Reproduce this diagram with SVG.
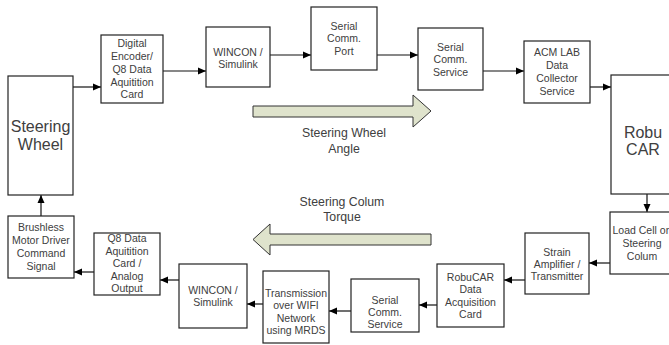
<svg xmlns="http://www.w3.org/2000/svg" width="669" height="345" viewBox="0 0 669 345">
<defs>
<marker id="ah" viewBox="0 0 8 8" refX="8" refY="4" markerWidth="8" markerHeight="8" markerUnits="userSpaceOnUse" orient="auto">
<path d="M0,0.5 L8,4 L0,7.5 z" fill="#000"/>
</marker>
<style>
.box{fill:#fff;stroke:#222;stroke-width:1.2}
.t{font-family:"Liberation Sans",Arial,sans-serif;font-size:10.5px;fill:#404040;text-anchor:middle}
.big{font-family:"Liberation Sans",Arial,sans-serif;font-size:16px;fill:#404040;text-anchor:middle}
.lbl{font-family:"Liberation Sans",Arial,sans-serif;font-size:12.3px;fill:#404040;text-anchor:middle}
.c{fill:none;stroke:#111;stroke-width:1.2;marker-end:url(#ah)}
.fat{fill:#dfe3cc;stroke:#333;stroke-width:1}
</style>
</defs>
<rect width="669" height="345" fill="#fff"/>

<g id="connectors">
<line class="c" x1="73" y1="87" x2="101" y2="87"/>
<line class="c" x1="163" y1="71" x2="206" y2="71"/>
<line class="c" x1="270" y1="55" x2="311" y2="55"/>
<line class="c" x1="377" y1="55" x2="418" y2="55"/>
<line class="c" x1="483" y1="71" x2="524" y2="71"/>
<line class="c" x1="590" y1="87" x2="611" y2="87"/>
<line class="c" x1="647" y1="194" x2="647" y2="212"/>
<line class="c" x1="610" y1="263" x2="589" y2="263"/>
<line class="c" x1="525" y1="280" x2="504" y2="280"/>
<line class="c" x1="437" y1="305" x2="419" y2="305"/>
<line class="c" x1="351" y1="311" x2="329" y2="311"/>
<line class="c" x1="263" y1="304" x2="247" y2="304"/>
<line class="c" x1="179" y1="280" x2="160" y2="280"/>
<line class="c" x1="94" y1="272" x2="74" y2="272"/>
<line class="c" x1="41" y1="216" x2="41" y2="195"/>
</g>

<g id="flow-arrows">
<path class="fat" d="M253,106 L413,106 L413,95 L431,111 L413,127 L413,117 L253,117 z"/>
<text class="lbl" x="344" y="137">Steering Wheel</text>
<text class="lbl" x="344" y="153">Angle</text>
<path class="fat" d="M431,234 L270,234 L270,224 L253,239.5 L270,255 L270,245 L431,245 z"/>
<text class="lbl" x="342" y="206">Steering Colum</text>
<text class="lbl" x="342" y="221">Torque</text>
</g>

<g id="steering-wheel">
<rect class="box" x="8" y="76" width="65" height="119"/>
<text class="big" x="40.5" y="132">Steering</text>
<text class="big" x="40.5" y="150">Wheel</text>
</g>

<g id="encoder">
<rect class="box" x="101" y="35" width="62" height="68"/>
<text class="t" x="132" y="47">Digital</text>
<text class="t" x="132" y="60">Encoder/</text>
<text class="t" x="132" y="73">Q8 Data</text>
<text class="t" x="132" y="86">Aquitition</text>
<text class="t" x="132" y="98">Card</text>
</g>

<g id="wincon-top">
<rect class="box" x="206" y="27" width="64" height="60"/>
<text class="t" x="238" y="56">WINCON /</text>
<text class="t" x="238" y="68">Simulink</text>
</g>

<g id="serial-port">
<rect class="box" x="311" y="7" width="66" height="63"/>
<text class="t" x="344" y="30">Serial</text>
<text class="t" x="344" y="42">Comm.</text>
<text class="t" x="344" y="55">Port</text>
</g>

<g id="serial-service-top">
<rect class="box" x="418" y="28" width="65" height="62"/>
<text class="t" x="450.5" y="51">Serial</text>
<text class="t" x="450.5" y="63">Comm.</text>
<text class="t" x="450.5" y="76">Service</text>
</g>

<g id="acm-lab">
<rect class="box" x="524" y="41" width="66" height="62"/>
<text class="t" x="557" y="56">ACM LAB</text>
<text class="t" x="557" y="69">Data</text>
<text class="t" x="557" y="82">Collector</text>
<text class="t" x="557" y="95">Service</text>
</g>

<g id="robucar">
<rect class="box" x="611" y="75" width="70" height="119"/>
<text class="big" x="643" y="138">Robu</text>
<text class="big" x="643" y="155">CAR</text>
</g>

<g id="load-cell">
<rect class="box" x="610" y="212" width="70" height="62"/>
<text class="t" x="642" y="234">Load Cell on</text>
<text class="t" x="642" y="247">Steering</text>
<text class="t" x="642" y="260">Colum</text>
</g>

<g id="strain-amp">
<rect class="box" x="525" y="233" width="64" height="61"/>
<text class="t" x="557" y="256">Strain</text>
<text class="t" x="557" y="268">Amplifier /</text>
<text class="t" x="557" y="280">Transmitter</text>
</g>

<g id="robucar-daq">
<rect class="box" x="437" y="264" width="67" height="63"/>
<text class="t" x="470.5" y="281">RobuCAR</text>
<text class="t" x="470.5" y="293">Data</text>
<text class="t" x="470.5" y="306">Acquisition</text>
<text class="t" x="470.5" y="318">Card</text>
</g>

<g id="serial-service-bottom">
<rect class="box" x="351" y="279" width="68" height="53"/>
<text class="t" x="385" y="304">Serial</text>
<text class="t" x="385" y="316">Comm.</text>
<text class="t" x="385" y="328">Service</text>
</g>

<g id="transmission">
<rect class="box" x="263" y="271" width="66" height="72"/>
<text class="t" x="296" y="297">Transmission</text>
<text class="t" x="296" y="309">over WIFI</text>
<text class="t" x="296" y="322">Network</text>
<text class="t" x="296" y="334">using MRDS</text>
</g>

<g id="wincon-bottom">
<rect class="box" x="179" y="264" width="68" height="64"/>
<text class="t" x="213" y="294">WINCON /</text>
<text class="t" x="213" y="306">Simulink</text>
</g>

<g id="q8-output">
<rect class="box" x="94" y="233" width="66" height="62"/>
<text class="t" x="127" y="242">Q8 Data</text>
<text class="t" x="127" y="255">Aquitition</text>
<text class="t" x="127" y="267">Card /</text>
<text class="t" x="127" y="280">Analog</text>
<text class="t" x="127" y="292">Output</text>
</g>

<g id="brushless">
<rect class="box" x="8" y="216" width="66" height="62"/>
<text class="t" x="41" y="231">Brushless</text>
<text class="t" x="41" y="244">Motor Driver</text>
<text class="t" x="41" y="257">Command</text>
<text class="t" x="41" y="270">Signal</text>
</g>
</svg>
